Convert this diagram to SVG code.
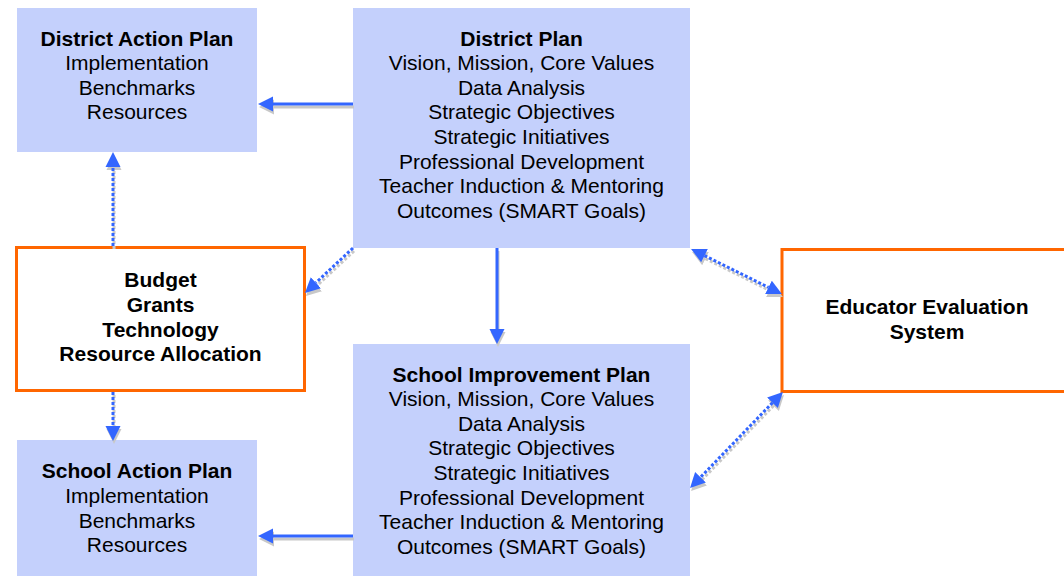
<svg xmlns="http://www.w3.org/2000/svg" width="1064" height="576" viewBox="0 0 1064 576">
  <style>
    .plan { fill: #C4D0FC; }
    .frame { fill: #FFFFFF; stroke: #FF6600; stroke-width: 3; }
    text { font-family: "Liberation Sans", Arial, sans-serif; font-size: 21px; fill: #000000; text-anchor: middle; }
    .title { font-weight: bold; }
    .link { fill: none; stroke: #3366FF; stroke-width: 3; }
    .link.shadow { stroke: #C8C8C8; }
    .dotted { stroke-dasharray: 3 2; }
  </style>
  <defs>
    <marker id="head" viewBox="0 -8 16 16" refX="0" refY="0" markerWidth="16" markerHeight="16" markerUnits="userSpaceOnUse" orient="auto-start-reverse">
      <path d="M0,-7.5 L15,0 L0,7.5 Z" fill="#3366FF"/>
    </marker>
    <marker id="head-shadow" viewBox="0 -8 16 16" refX="0" refY="0" markerWidth="16" markerHeight="16" markerUnits="userSpaceOnUse" orient="auto-start-reverse">
      <path d="M0,-7.5 L15,0 L0,7.5 Z" fill="#C8C8C8"/>
    </marker>
  </defs>

  <rect width="1064" height="576" fill="#FFFFFF"/>

  <g id="district-action-plan">
    <rect class="plan" x="17" y="8" width="240" height="144"/>
    <text x="137" y="45.5" class="title">District Action Plan</text>
    <text x="137" y="70.1">Implementation</text>
    <text x="137" y="94.7">Benchmarks</text>
    <text x="137" y="119.3">Resources</text>
  </g>

  <g id="district-plan">
    <rect class="plan" x="353" y="8" width="337" height="240"/>
    <text x="521.5" y="45.5" class="title">District Plan</text>
    <text x="521.5" y="70.1">Vision, Mission, Core Values</text>
    <text x="521.5" y="94.7">Data Analysis</text>
    <text x="521.5" y="119.3">Strategic Objectives</text>
    <text x="521.5" y="143.9">Strategic Initiatives</text>
    <text x="521.5" y="168.5">Professional Development</text>
    <text x="521.5" y="193.1">Teacher Induction &amp; Mentoring</text>
    <text x="521.5" y="217.7">Outcomes (SMART Goals)</text>
  </g>

  <g id="resources">
    <rect class="frame" x="16.5" y="247.5" width="288" height="143"/>
    <text x="160.5" y="287.3" class="title">Budget</text>
    <text x="160.5" y="311.9" class="title">Grants</text>
    <text x="160.5" y="336.5" class="title">Technology</text>
    <text x="160.5" y="361.1" class="title">Resource Allocation</text>
  </g>

  <g id="educator-evaluation">
    <rect class="frame" x="782" y="249.5" width="300" height="142"/>
    <text x="927" y="314.2" class="title">Educator Evaluation</text>
    <text x="927" y="338.8" class="title">System</text>
  </g>

  <g id="school-improvement-plan">
    <rect class="plan" x="353" y="344" width="337" height="232"/>
    <text x="521.5" y="381.6" class="title">School Improvement Plan</text>
    <text x="521.5" y="406.2">Vision, Mission, Core Values</text>
    <text x="521.5" y="430.8">Data Analysis</text>
    <text x="521.5" y="455.4">Strategic Objectives</text>
    <text x="521.5" y="480">Strategic Initiatives</text>
    <text x="521.5" y="504.6">Professional Development</text>
    <text x="521.5" y="529.2">Teacher Induction &amp; Mentoring</text>
    <text x="521.5" y="553.8">Outcomes (SMART Goals)</text>
  </g>

  <g id="school-action-plan">
    <rect class="plan" x="17" y="440" width="240" height="136"/>
    <text x="137" y="478.3" class="title">School Action Plan</text>
    <text x="137" y="502.9">Implementation</text>
    <text x="137" y="527.5">Benchmarks</text>
    <text x="137" y="552.1">Resources</text>
  </g>

  <g id="connectors">
    <!-- drop shadows, drawn first and offset -->
    <g transform="translate(1,3)">
      <path class="link shadow" d="M353,104 H273" marker-end="url(#head-shadow)"/>
      <path class="link shadow" d="M353,536 H273" marker-end="url(#head-shadow)"/>
      <path class="link shadow" d="M497,248 V329" marker-end="url(#head-shadow)"/>
      <path class="link shadow dotted" d="M113,246 V167" marker-end="url(#head-shadow)"/>
      <path class="link shadow dotted" d="M113,392 V426" marker-end="url(#head-shadow)"/>
      <path class="link shadow dotted" d="M353,248 L315.9,282.7" marker-end="url(#head-shadow)"/>
      <path class="link shadow dotted" d="M704.5,255.6 L768.5,287.4" marker-start="url(#head-shadow)" marker-end="url(#head-shadow)"/>
      <path class="link shadow dotted" d="M772.5,402.7 L700.5,477.3" marker-start="url(#head-shadow)" marker-end="url(#head-shadow)"/>
    </g>
    <!-- arrows -->
    <path class="link" d="M353,104 H273" marker-end="url(#head)"/>
    <path class="link" d="M353,536 H273" marker-end="url(#head)"/>
    <path class="link" d="M497,248 V329" marker-end="url(#head)"/>
    <path class="link dotted" d="M113,246 V167" marker-end="url(#head)"/>
    <path class="link dotted" d="M113,392 V426" marker-end="url(#head)"/>
    <path class="link dotted" d="M353,248 L315.9,282.7" marker-end="url(#head)"/>
    <path class="link dotted" d="M704.5,255.6 L768.5,287.4" marker-start="url(#head)" marker-end="url(#head)"/>
    <path class="link dotted" d="M772.5,402.7 L700.5,477.3" marker-start="url(#head)" marker-end="url(#head)"/>
  </g>
</svg>
